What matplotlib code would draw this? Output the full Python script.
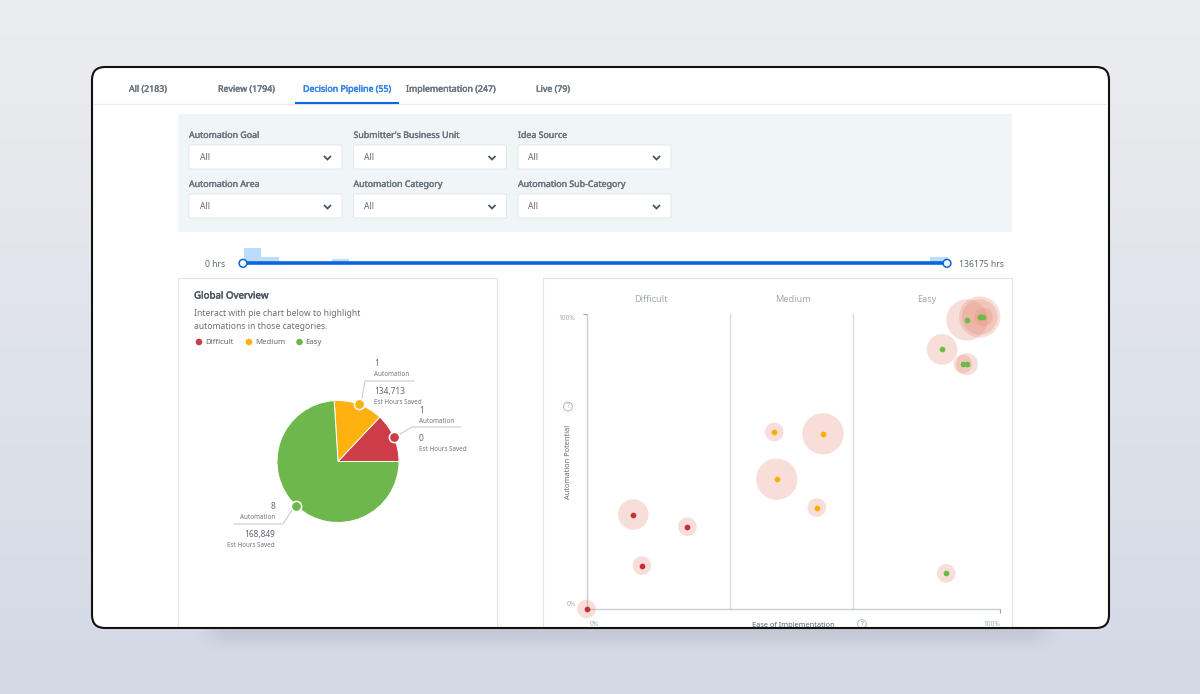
import numpy as np
import matplotlib
matplotlib.use("Agg")
import matplotlib.pyplot as plt
import matplotlib.patheffects as pe
from matplotlib.patches import FancyBboxPatch, Rectangle, Circle

plt.rcParams['font.family'] = ['Noto Sans', 'DejaVu Sans']

# ---------- data ----------
tab_labels = ["All (2183)", "Review (1794)", "Decision Pipeline (55)", "Implementation (247)", "Live (79)"]
filter_labels = [["Automation Goal", "Submitter's Business Unit", "Idea Source"],
                 ["Automation Area", "Automation Category", "Automation Sub-Category"]]
hist_bins = [0, 1, 5, 39]
hist_counts = [14, 5, 3, 5]
slider_min = "0 hrs"
slider_max = "136175 hrs"

pie_categories = ["Difficult", "Medium", "Easy"]
pie_shares = [13, 13, 74]
pie_automations = ["1", "1", "8"]
pie_hours = ["0", "134,713", "168,849"]

difficult_x = [11.3, 24.4, 13.4, 0.0]
difficult_y = [32.0, 27.9, 14.7, 0.0]
difficult_w = [2.7, 1.0, 1.0, 1.0]
medium_x = [45.4, 57.2, 46.0, 55.7]
medium_y = [60.0, 59.4, 44.0, 34.4]
medium_w = [1.0, 4.9, 4.9, 1.0]
easy_x = [92.0, 95.1, 95.1, 96.0, 86.0, 91.0, 92.0, 87.0]
easy_y = [98.0, 99.0, 99.0, 99.0, 88.0, 83.0, 83.0, 12.1]
easy_w = [4.9, 4.9, 3.6, 1.0, 2.7, 1.0, 1.4, 1.0]
band_edges = [34.8, 64.5]
band_labels = ["Difficult", "Medium", "Easy"]

# ---------- colours ----------
RED, ORANGE, GREEN = "#cc3d48", "#ffb10f", "#6eb74d"
DOT = {"Difficult": "#c5303a", "Medium": "#ffab00", "Easy": "#6cbb45"}
BLUE = "#0a66dc"
TXT = "#5b6670"
W, H = 1200, 694

fig = plt.figure(figsize=(W / 100, H / 100), dpi=100)

def px_axes(z):
    a = fig.add_axes([0, 0, 1, 1], zorder=z)
    a.set_xlim(0, W); a.set_ylim(H, 0); a.axis("off")
    return a

def sub_axes(x0, y0, x1, y1, z=2):
    return fig.add_axes([x0 / W, 1 - y1 / H, (x1 - x0) / W, (y1 - y0) / H], zorder=z)

# background with gradient and soft shadow
bg = px_axes(0)
yy, xx = np.mgrid[0:H, 0:W]
t = yy / (H - 1)
top, bot = np.array([236, 237, 239.]), np.array([211, 217, 229.])
img = top[None, None, :] * (1 - t[..., None]) + bot[None, None, :] * t[..., None]
sx = np.clip((xx - 190) / 40, 0, 1) * np.clip((1065 - xx) / 40, 0, 1)
sy = np.clip((655 - yy) / 28, 0, 1) * np.clip((yy - 500) / 28, 0, 1)
sh = (sx * sx * (3 - 2 * sx) * sy * sy * (3 - 2 * sy))[..., None] * 0.2
img = img * (1 - sh) + np.array([120, 125, 135.]) * sh
bg.imshow(img.astype(np.uint8), extent=(0, W, H, 0), aspect="auto", zorder=0)
bg.set_xlim(0, W); bg.set_ylim(H, 0)

def frame(a, **kw):
    return a.add_patch(FancyBboxPatch((92, 67), 1017, 561, boxstyle="round,pad=0,rounding_size=13", **kw))

# white screen + UI
ui = px_axes(1)
clip_patch = frame(ui, fc="white", ec="none", zorder=0)

def T(a, x, y, s, size=6.5, color=TXT, ha="left", heavy=0.0, rot=0):
    o = a.text(x, y, s, fontsize=size, color=color, ha=ha, va="center",
               rotation=rot, rotation_mode="anchor" if rot == 0 else "default", clip_on=True)
    o.set_clip_path(clip_patch)
    if heavy:
        o.set_path_effects([pe.withStroke(linewidth=heavy, foreground=color)])
    return o

# tabs
tab_x = [129, 218, 303, 406, 536]
for i, (x, s) in enumerate(zip(tab_x, tab_labels)):
    T(ui, x, 89.2, s, 6.35, "#2f7fe6" if i == 2 else "#6b757e", heavy=0.3)
ui.plot([93, 1105], [104, 104], color="#e8eaed", lw=0.9, zorder=1)
ui.plot([295, 399], [103, 103], color=BLUE, lw=1.5, zorder=2, solid_capstyle="butt")

# filter panel
ui.add_patch(Rectangle((178, 114), 834, 118, fc="#f0f5f7", ec="none"))
col_x = [189, 353.5, 518]
row_y = [145, 194]
for r, y in enumerate(row_y):
    for c, x in enumerate(col_x):
        T(ui, x, y - 9.6, filter_labels[r][c], 6.35, "#6b757e", heavy=0.3)
        ui.add_patch(FancyBboxPatch((x, y), 153, 24, boxstyle="round,pad=0,rounding_size=1.5",
                                    fc="white", ec="#e3e8ec", lw=0.7))
        T(ui, x + 10.5, y + 12, "All", 6.2, "#6b6472")
        cx = x + 138.5
        ui.plot([cx - 3.5, cx, cx + 3.5], [y + 11, y + 14.5, y + 11], color="#4a5560", lw=1.3,
                solid_capstyle="butt", solid_joinstyle="miter")

# slider
hist = sub_axes(243.5, 248, 947.5, 262)
hist.bar(hist_bins, hist_counts, width=1, align="edge", color="#bcdcff")
hist.set_xlim(0, 40); hist.set_ylim(0, max(hist_counts)); hist.axis("off")
T(ui, 205, 264, slider_min, 6.2, "#5f6972")
T(ui, 959, 264, slider_max, 6.2, "#5f6972")
sl = px_axes(3)
sl.plot([243, 947], [263.3, 263.3], color=BLUE, lw=2.6, solid_capstyle="butt")
for x in (243, 947):
    sl.add_patch(Circle((x, 263.3), 3.9, fc="white", ec=BLUE, lw=1.1, zorder=3))

# cards
for x0, x1 in ((178, 497), (543, 1011.5)):
    ui.add_patch(Rectangle((x0, 278), x1 - x0, 400, fc="white", ec="#e1e4ea", lw=0.8,
                           clip_path=clip_patch))

# left card text
T(ui, 194, 296, "Global Overview", 7.0, "#4c555d", heavy=0.3)
T(ui, 194, 313, "Interact with pie chart below to highlight", 6.2, "#687078")
T(ui, 194, 326, "automations in those categories.", 6.2, "#687078")
pie_colors = [RED, ORANGE, GREEN]
for x, s, c in zip((199, 249, 299.5), pie_categories, pie_colors):
    ui.add_patch(Circle((x, 342), 3.3, fc=c, ec="none"))
    T(ui, x + 6, 342, s, 5.6, "#5f6972")

# pie
pa = sub_axes(277, 400.5, 399, 522.5)
wedges, _ = pa.pie(pie_shares, colors=pie_colors, startangle=0, counterclock=True, radius=1,
                   wedgeprops=dict(edgecolor="white", linewidth=0.7))
pa.set_xlim(-1, 1); pa.set_ylim(-1, 1)
for w, c in zip(wedges, pie_colors):
    ang = np.deg2rad((w.theta1 + w.theta2) / 2)
    pa.plot(np.cos(ang), np.sin(ang), "o", ms=7.4, mfc=c, mec="white", mew=1.1, clip_on=False, zorder=5)

pie_notes = [
    dict(x=419, y0=410, ha="left", line=[(400, 434), (412, 427), (461, 427)]),
    dict(x=374, y0=363, ha="left", line=[(362, 398), (365, 381), (414, 381)]),
    dict(x=275, y0=506, ha="right", line=[(292, 510), (283, 524), (234, 524)]),
]
for n, cnt, hrs in zip(pie_notes, pie_automations, pie_hours):
    xs, ys = zip(*n["line"])
    ui.plot(xs, ys, color="#c9ccd2", lw=0.8)
    T(ui, n["x"], n["y0"], cnt, 6, "#5f6972", ha=n["ha"])
    T(ui, n["x"], n["y0"] + 11.5, "Automation", 4.5, "#707880", ha=n["ha"])
    T(ui, n["x"], n["y0"] + 28, hrs, 6, "#5f6972", ha=n["ha"])
    T(ui, n["x"], n["y0"] + 39.5, "Est Hours Saved", 4.5, "#707880", ha=n["ha"])

# bubble chart
sc = sub_axes(586.5, 314, 1000, 609)
sc.set_xlim(0, 100); sc.set_ylim(0, 100)
sc.patch.set_alpha(0)
for s in ("top", "right"):
    sc.spines[s].set_visible(False)
for s in ("left", "bottom"):
    sc.spines[s].set_color("#c8cdd6"); sc.spines[s].set_linewidth(1)
sc.set_xticks([100]); sc.set_yticks([100])
sc.set_xticklabels([]); sc.set_yticklabels([])
sc.tick_params(length=3.2, width=0.8, color="#9aa2ac")
for e in band_edges:
    sc.axvline(e, color="#d5d8de", lw=0.9, zorder=1)
AREA = 180
for name, xs, ys, ws in (("Difficult", difficult_x, difficult_y, difficult_w),
                         ("Medium", medium_x, medium_y, medium_w),
                         ("Easy", easy_x, easy_y, easy_w)):
    sc.scatter(xs, ys, s=np.array(ws) * AREA, color="#e58a75", alpha=0.28, linewidths=0,
               clip_on=False, zorder=3)
    sc.scatter(xs, ys, s=17, color=DOT[name], linewidths=0, clip_on=False, zorder=4)

for x, s in zip((650.7, 793.5, 927), band_labels):
    T(ui, x, 299, s, 6.6, "#a0abb2", ha="center")
T(ui, 575.5, 318, "100%", 4.7, "#a3adb3", ha="right")
T(ui, 575.5, 604, "0%", 4.7, "#a3adb3", ha="right")
T(ui, 594.5, 624, "0%", 4.7, "#a3adb3", ha="center")
T(ui, 992, 624, "100%", 4.7, "#a3adb3", ha="center")
T(ui, 793.5, 625.3, "Ease of Implementation", 5.35, "#5f6972", ha="center")
T(ui, 569, 461.5, "Automation Potential", 5.35, "#5f6972", ha="center", rot=90)
for x, y in ((568, 406.5), (862, 624)):
    c = ui.add_patch(Circle((x, y), 4.4, fc="white", ec="#b5bcc2", lw=0.7))
    c.set_clip_path(clip_patch)
    T(ui, x, y, "?", 4.6, "#9aa5ac", ha="center")

# frame border on top
topx = px_axes(6)
frame(topx, fc="none", ec="#111111", lw=1.5)

fig.savefig("out.png", dpi=100)
